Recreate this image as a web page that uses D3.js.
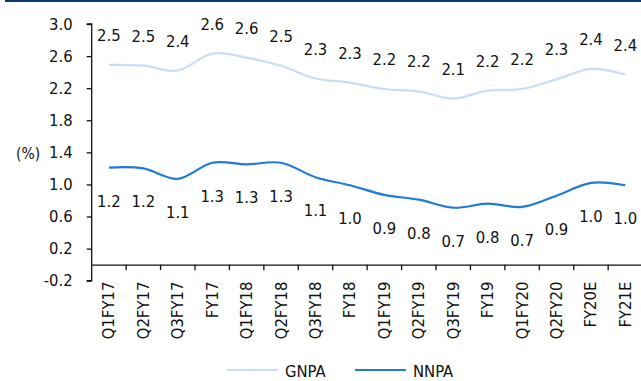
<!DOCTYPE html>
<html>
<head>
<meta charset="utf-8">
<script src="https://cdn.jsdelivr.net/npm/d3@7"></script>
<style>
  html, body { margin: 0; padding: 0; background: #fff; }
  svg { display: block; }
  text { font-family: "DejaVu Sans Condensed", "Liberation Sans Narrow", sans-serif; fill: #111; }
</style>
</head>
<body>
<svg id="chart" width="641" height="381"></svg>
<script>
// Quarterly / annual asset-quality ratios (%)
const periods = ["Q1FY17", "Q2FY17", "Q3FY17", "FY17", "Q1FY18", "Q2FY18", "Q3FY18", "FY18",
                 "Q1FY19", "Q2FY19", "Q3FY19", "FY19", "Q1FY20", "Q2FY20", "FY20E", "FY21E"];
const gnpa = [2.49, 2.48, 2.42, 2.63, 2.58, 2.48, 2.32, 2.27, 2.19, 2.16, 2.07, 2.17, 2.19, 2.31, 2.44, 2.37];
const nnpa = [1.21, 1.20, 1.07, 1.27, 1.25, 1.27, 1.09, 0.99, 0.87, 0.81, 0.71, 0.76, 0.72, 0.86, 1.02, 0.99];
const yTicks = [-0.2, 0.2, 0.6, 1.0, 1.4, 1.8, 2.2, 2.6, 3.0];

const series = [
  { name: "GNPA", values: gnpa, color: "#c9def6", labelDy: -24 },
  { name: "NNPA", values: nnpa, color: "#1f7ad8", labelDy: 39 }
];

const svg = d3.select("#chart");
const fmt = v => d3.format(".1f")(v).replace("\u2212", "-");

const x = d3.scaleBand().domain(periods).range([91.7, 642.6]).paddingInner(0).paddingOuter(0);
const y = d3.scaleLinear().domain([-0.2, 3.0]).range([280.7, 24]);

// Header rule
svg.append("rect").attr("x", 5).attr("y", 0).attr("width", 636).attr("height", 2).attr("fill", "#0b3c72");

// Y axis
const yAxis = svg.append("g").attr("transform", "translate(91.7,0)")
  .call(d3.axisLeft(y).tickValues(yTicks).tickFormat(fmt).tickSize(5).tickPadding(14));
yAxis.select(".domain").attr("stroke", "#111").attr("stroke-width", 1.3).attr("d", `M-5,${y(3.0)}H0V${y(-0.2)}H-5`);
yAxis.selectAll(".tick line").attr("stroke", "#111").attr("stroke-width", 1.3);
yAxis.selectAll(".tick text").attr("font-size", 16.5).attr("fill", "#111");

// Unit label
svg.append("text").attr("x", 16).attr("y", 159).attr("font-size", 15.5).text("(%)");

// X axis at zero
const xAxis = svg.append("g").attr("transform", `translate(0,${y(0)})`)
  .call(d3.axisBottom(x).tickSize(0).tickFormat(""));
xAxis.select(".domain").attr("stroke", "#111").attr("stroke-width", 1.3);
// Category boundary ticks
const bounds = periods.map(p => x(p)).concat([x(periods[periods.length - 1]) + x.bandwidth()]);
svg.append("g").selectAll("line").data(bounds.slice(1)).join("line")
  .attr("x1", d => d).attr("x2", d => d)
  .attr("y1", y(0)).attr("y2", y(0) + 5.5)
  .attr("stroke", "#111").attr("stroke-width", 1.3);

// Rotated category labels
svg.append("g").selectAll("text").data(periods).join("text")
  .attr("transform", d => `translate(${x(d) + x.bandwidth() / 2 + 5.5},${y(0) + 17}) rotate(-90)`)
  .attr("text-anchor", "end")
  .attr("font-size", 16.5)
  .text(d => d);

// Smoothed lines
const line = d3.line()
  .x((d, i) => x(periods[i]) + x.bandwidth() / 2)
  .y(d => y(d))
  .curve(d3.curveCatmullRom.alpha(0));

series.forEach(s => {
  svg.append("path").datum(s.values)
    .attr("fill", "none").attr("stroke", s.color).attr("stroke-width", 2.2)
    .attr("d", line);
  svg.append("g").selectAll("text").data(s.values).join("text")
    .attr("x", (d, i) => x(periods[i]) + x.bandwidth() / 2)
    .attr("y", d => y(d) + s.labelDy)
    .attr("text-anchor", "middle")
    .attr("font-size", 16.5)
    .text(d => fmt(d));
});

// Legend
const legendX = [227, 355];
series.forEach((s, i) => {
  const g = svg.append("g").attr("transform", `translate(${legendX[i]},370)`);
  g.append("line").attr("x1", 0).attr("x2", 51).attr("y1", 0).attr("y2", 0)
    .attr("stroke", s.color).attr("stroke-width", 2.2);
  g.append("text").attr("x", 58).attr("y", 7).attr("font-size", 16.5).text(s.name);
});
</script>
</body>
</html>
